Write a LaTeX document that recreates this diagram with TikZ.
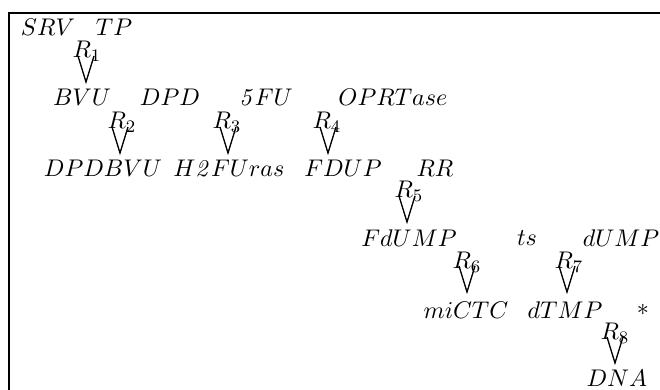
\documentclass[tikz,border=0pt]{standalone}
\usetikzlibrary{calc}

\tikzset{
  species/.style={inner sep=0pt, font=\fontsize{11.2}{13}\selectfont},
  rlabel/.style={inner sep=0pt, font=\fontsize{11.2}{13}\selectfont},
  veeline/.style={line width=0.6pt, line join=miter},
  frameline/.style={line width=0.7pt}
}
% draws the open V under a reaction label, tip at the given coordinate
\newcommand{\reactvee}[1]{%
  \draw[veeline] ($(#1)+(-8,-26)$) -- (#1) -- ($(#1)+(8,-26)$);}

\begin{document}
\begin{tikzpicture}[x=0.4545pt, y=-0.4545pt]
\useasboundingbox (0,0) rectangle (660,390);
% frame, open to the right and below
\draw[frameline] (9,390) -- (9,13) -- (660,13);

% species
\node[species] (srv)    at (48,27)  {$SRV$};
\node[species] (tp)     at (114,27) {$TP$};
\node[species] (bvu)    at (82,97)  {$BVU$};
\node[species] (dpd)    at (170,97) {$DPD$};
\node[species] (fu)     at (266,97) {$\mathit{5}FU$};
\node[species] (oprt)   at (393,97) {$OPRTase$};
\node[species] (dpdbvu) at (103,168) {$DPDBVU$};
\node[species] (h2fu)   at (229,168) {$H\mathit{2}FUras$};
\node[species] (fdup)   at (343,168) {$FDUP$};
\node[species] (rr)     at (435,168) {$RR$};
\node[species] (fdump)  at (409,238) {$FdUMP$};
\node[species] (ts)     at (527,238) {$ts$};
\node[species] (dump)   at (621,238) {$dUMP$};
\node[species] (mictc)  at (466,310) {$miCTC$};
\node[species] (dtmp)   at (565,310) {$dTMP$};
\node[species] (star)   at (643,310) {$*$};
\node[species] (dna)    at (617,378) {$DNA$};

% reaction tips
\coordinate (t1) at (86,82);
\coordinate (t2) at (120,153);
\coordinate (t3) at (228,153);
\coordinate (t4) at (328,153);
\coordinate (t5) at (407,222);
\coordinate (t6) at (467,292);
\coordinate (t7) at (567,292);
\coordinate (t8) at (615,363);

\foreach \i in {1,...,8} {\reactvee{t\i}}

% reaction labels
\node[rlabel] (r1) at ($(t1)+(1,-31)$) {$R_1$};
\node[rlabel] (r2) at ($(t2)+(2,-31)$) {$R_2$};
\node[rlabel] (r3) at ($(t3)+(-1,-31)$) {$R_3$};
\node[rlabel] (r4) at ($(t4)+(-1,-31)$) {$R_4$};
\node[rlabel] (r5) at ($(t5)+(2,-31)$) {$R_5$};
\node[rlabel] (r6) at ($(t6)+(0,-30)$) {$R_6$};
\node[rlabel] (r7) at ($(t7)+(2,-30)$) {$R_7$};
\node[rlabel] (r8) at ($(t8)+(0,-30)$) {$R_8$};
\end{tikzpicture}
\end{document}
